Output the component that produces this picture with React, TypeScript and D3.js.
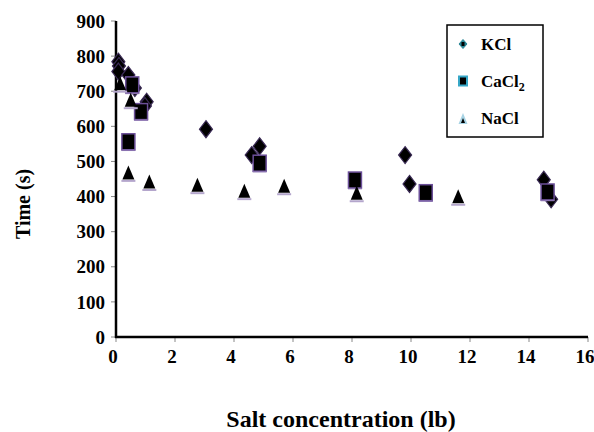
import React from "react";
import * as d3 from "d3";

const xTicks = [0, 2, 4, 6, 8, 10, 12, 14, 16];
const yTicks = [0, 100, 200, 300, 400, 500, 600, 700, 800, 900];

const kclX = [0.08, 0.1, 0.08, 0.42, 0.64, 1.04, 0.98, 3.05, 4.6, 4.87, 9.8, 9.95, 14.5, 14.75];
const kclY = [784, 772, 756, 746, 709, 670, 658, 592, 518, 543, 518, 436, 448, 392];

const cacl2X = [0.55, 0.85, 0.42, 4.87, 8.1, 10.5, 14.63];
const cacl2Y = [718, 642, 556, 495, 447, 411, 413];

const naclX = [0.14, 0.5, 0.42, 1.13, 2.76, 4.35, 5.7, 8.16, 11.6];
const naclY = [720, 673, 466, 440, 431, 414, 428, 408, 398];

const seriesNames = ["KCl", "CaCl", "NaCl"];

const FONT = "Liberation Serif, Times New Roman, DejaVu Serif, serif";

export default function App() {
  const W = 594, H = 432;
  const x = d3.scaleLinear().domain([0, 16]).range([116, 588]);
  const y = d3.scaleLinear().domain([0, 900]).range([337, 21]);

  const kcl = kclX.map((v, i) => [v, kclY[i]]);
  const cacl2 = cacl2X.map((v, i) => [v, cacl2Y[i]]);
  const nacl = naclX.map((v, i) => [v, naclY[i]]);

  const diamond = (cx: number, cy: number, w: number, h: number) =>
    `M${cx},${cy - h / 2}L${cx + w / 2},${cy}L${cx},${cy + h / 2}L${cx - w / 2},${cy}Z`;
  const tri = (cx: number, cy: number, w: number, h: number) =>
    `M${cx},${cy - h / 2}L${cx + w / 2},${cy + h / 2}L${cx - w / 2},${cy + h / 2}Z`;

  const ts = { fontFamily: FONT, fontWeight: 700 } as React.CSSProperties;

  return (
    <svg width={W} height={H} style={{ position: "absolute", left: 0, top: 0, background: "#fff" }}>
      {/* y ticks */}
      {yTicks.map((t) => (
        <g key={"y" + t}>
          <line x1={111} x2={116} y1={y(t)} y2={y(t)} stroke="#888" strokeWidth={1} />
          <text x={105} y={y(t)} dy="0.35em" textAnchor="end" style={{ ...ts, fontSize: 19 }}>
            {t}
          </text>
        </g>
      ))}
      {xTicks.map((t) => (
        <g key={"x" + t}>
          <line x1={x(t)} x2={x(t)} y1={337} y2={342} stroke="#888" strokeWidth={1} />
          <text x={x(t) - 3} y={363} textAnchor="middle" style={{ ...ts, fontSize: 19 }}>
            {t}
          </text>
        </g>
      ))}
      <line x1={116} x2={116} y1={y(900)} y2={338} stroke="#000" strokeWidth={2.5} />
      <line x1={115} x2={588} y1={337} y2={337} stroke="#000" strokeWidth={2.5} />

      {/* KCl diamonds */}
      {kcl.map((d, i) => (
        <path key={"k" + i} d={diamond(x(d[0]), y(d[1]), 13, 17)} fill="#000" stroke="#3a2a55" strokeWidth={1.2} />
      ))}
      {/* CaCl2 squares */}
      {cacl2.map((d, i) => (
        <g key={"c" + i}>
          <rect x={x(d[0]) - 6.5} y={y(d[1]) - 8} width={13} height={16} fill="#000" stroke="#6b4f98" strokeWidth={1.5} />
          <line x1={x(d[0]) - 7} x2={x(d[0]) + 7} y1={y(d[1]) + 8.5} y2={y(d[1]) + 8.5} stroke="#8a72b0" strokeWidth={1.5} />
        </g>
      ))}
      {/* NaCl triangles */}
      {nacl.map((d, i) => (
        <g key={"n" + i}>
          <path d={tri(x(d[0]), y(d[1]) - 1, 12, 14)} fill="#000" />
          <line x1={x(d[0]) - 7} x2={x(d[0]) + 7} y1={y(d[1]) + 7.5} y2={y(d[1]) + 7.5} stroke="#b4a6cc" strokeWidth={2} />
        </g>
      ))}

      {/* legend */}
      <rect x={447} y={25} width={96} height={112} fill="#fff" stroke="#000" strokeWidth={1.5} />
      <path d={diamond(463, 44, 8, 9)} fill="#2b8797" stroke="#2b8797" />
      <rect x={461.5} y={42} width={3} height={4} fill="#000" />
      <rect x={459} y={76.5} width={8} height={9} fill="#000" stroke="#36a7c7" strokeWidth={2} />
      <path d={tri(463, 118.5, 9, 11)} fill="#a7d3e4" />
      <path d={tri(463, 120.5, 4, 5)} fill="#000" />
      <text x={481} y={50} style={{ ...ts, fontSize: 17 }}>{seriesNames[0]}</text>
      <text x={481} y={87} style={{ ...ts, fontSize: 17 }}>
        {seriesNames[1]}
        <tspan style={{ fontSize: 12 }} dy={4}>2</tspan>
      </text>
      <text x={481} y={124} style={{ ...ts, fontSize: 17 }}>{seriesNames[2]}</text>

      {/* axis titles */}
      <text transform="translate(30,204) rotate(-90)" textAnchor="middle" style={{ ...ts, fontSize: 20 }}>
        Time (s)
      </text>
      <text x={341} y={427} textAnchor="middle" style={{ ...ts, fontSize: 24 }}>
        Salt concentration (lb)
      </text>
    </svg>
  );
}
